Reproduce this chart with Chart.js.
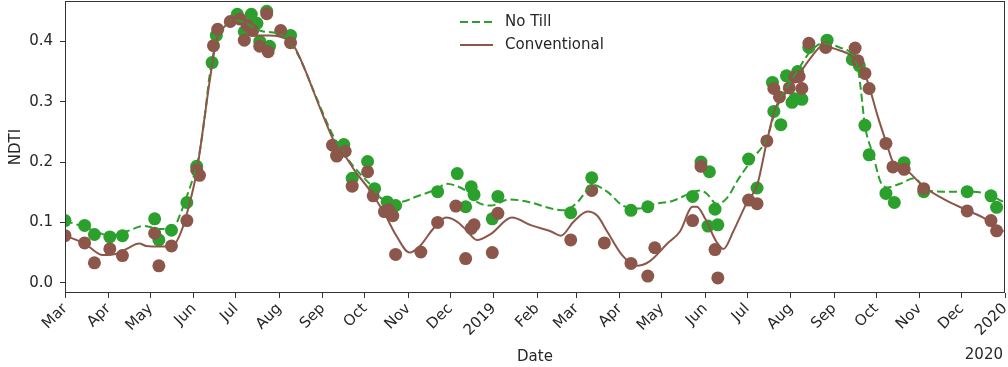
<!DOCTYPE html>
<html>
<head>
<meta charset="utf-8">
<script src="https://cdn.jsdelivr.net/npm/chart.js@4.4.0/dist/chart.umd.min.js"></script>
<style>
  html, body { margin: 0; padding: 0; background: #fff; }
  #wrap { width: 1008px; height: 367px; }
</style>
</head>
<body>
<div id="wrap"><canvas id="ndtiChart"></canvas></div>
<script>
// scatter points
const noTillDates = ['2018-03-01','2018-03-15','2018-03-22','2018-04-02','2018-04-11','2018-05-04','2018-05-07','2018-05-16','2018-05-27','2018-06-03',
  '2018-06-14','2018-06-17','2018-07-02','2018-07-07','2018-07-12','2018-07-16','2018-07-18','2018-07-23','2018-07-25','2018-08-09',
  '2018-09-11','2018-09-16','2018-09-22','2018-10-03','2018-10-08','2018-10-17','2018-10-23','2018-11-22','2018-12-06','2018-12-12',
  '2018-12-16','2018-12-18','2018-12-31','2019-01-04','2019-02-25','2019-03-12','2019-04-09','2019-04-21','2019-05-23','2019-05-29',
  '2019-06-03','2019-06-04','2019-06-08','2019-06-10','2019-07-02','2019-07-08','2019-07-19','2019-07-20','2019-07-25','2019-07-29',
  '2019-08-02','2019-08-04','2019-08-06','2019-08-09','2019-08-14','2019-08-27','2019-09-14','2019-09-19','2019-09-23','2019-09-26',
  '2019-10-08','2019-10-14','2019-10-21','2019-11-04','2019-12-05','2019-12-22','2019-12-26'];
const noTillValues = [0.103,0.095,0.080,0.076,0.078,0.106,0.071,0.087,0.133,0.193,
  0.365,0.410,0.445,0.416,0.445,0.430,0.400,0.450,0.392,0.410,
  0.211,0.229,0.173,0.201,0.156,0.134,0.128,0.151,0.181,0.126,
  0.159,0.146,0.106,0.143,0.116,0.174,0.120,0.126,0.143,0.200,
  0.094,0.184,0.122,0.096,0.205,0.157,0.332,0.284,0.262,0.343,
  0.299,0.305,0.350,0.304,0.390,0.402,0.370,0.360,0.261,0.212,
  0.148,0.133,0.199,0.151,0.151,0.144,0.125];

const conventionalDates = ['2018-03-01','2018-03-15','2018-03-22','2018-04-02','2018-04-11','2018-05-04','2018-05-07','2018-05-16','2018-05-27','2018-06-03',
  '2018-06-05','2018-06-15','2018-06-18','2018-06-27','2018-07-04','2018-07-07','2018-07-09','2018-07-13','2018-07-18','2018-07-23',
  '2018-07-24','2018-08-02','2018-08-09','2018-09-08','2018-09-11','2018-09-17','2018-09-22','2018-10-03','2018-10-07','2018-10-15',
  '2018-10-18','2018-10-21','2018-10-23','2018-11-10','2018-11-22','2018-12-05','2018-12-12','2018-12-16','2018-12-18','2018-12-31',
  '2019-01-04','2019-02-25','2019-03-12','2019-03-21','2019-04-09','2019-04-21','2019-04-26','2019-05-23','2019-05-29','2019-06-08',
  '2019-06-10','2019-07-02','2019-07-08','2019-07-15','2019-07-20','2019-07-24','2019-07-31','2019-08-04','2019-08-07','2019-08-09',
  '2019-08-14','2019-08-26','2019-09-16','2019-09-18','2019-09-23','2019-09-26','2019-10-08','2019-10-13','2019-10-21','2019-11-04',
  '2019-12-05','2019-12-22','2019-12-26'];
const conventionalValues = [0.078,0.066,0.033,0.056,0.045,0.082,0.028,0.061,0.103,0.187,
  0.178,0.393,0.420,0.433,0.437,0.402,0.427,0.418,0.392,0.446,
  0.383,0.418,0.398,0.228,0.210,0.218,0.160,0.184,0.144,0.118,
  0.121,0.111,0.047,0.051,0.100,0.127,0.040,0.090,0.096,0.050,
  0.115,0.071,0.153,0.066,0.032,0.011,0.058,0.103,0.193,0.055,
  0.008,0.137,0.131,0.235,0.322,0.308,0.323,0.341,0.342,0.322,
  0.397,0.390,0.389,0.368,0.347,0.322,0.231,0.192,0.188,0.156,
  0.119,0.103,0.086];

// smoothed curves
const noTillFitDates = ['2018-03-01','2018-03-15','2018-03-21','2018-04-02','2018-04-14','2018-04-26','2018-05-08','2018-05-17','2018-05-23','2018-05-28',
  '2018-06-01','2018-06-05','2018-06-09','2018-06-12','2018-06-17','2018-06-23','2018-06-30','2018-07-07','2018-07-18','2018-08-01',
  '2018-08-08','2018-08-15','2018-08-26','2018-09-06','2018-09-13','2018-09-24','2018-10-04','2018-10-14','2018-10-26','2018-11-07',
  '2018-11-22','2018-11-28','2018-12-06','2018-12-13','2018-12-20','2018-12-30','2019-01-12','2019-01-26','2019-02-11','2019-02-21',
  '2019-03-02','2019-03-13','2019-03-23','2019-04-03','2019-04-15','2019-04-27','2019-05-09','2019-05-21','2019-05-28','2019-06-02',
  '2019-06-09','2019-06-16','2019-06-25','2019-07-05','2019-07-15','2019-07-21','2019-07-29','2019-08-06','2019-08-15','2019-08-24',
  '2019-09-05','2019-09-13','2019-09-18','2019-09-20','2019-09-23','2019-09-29','2019-10-04','2019-10-09','2019-10-18','2019-10-28',
  '2019-11-07','2019-11-18','2019-12-05','2019-12-18','2019-12-31'];
const noTillFitValues = [0.103,0.092,0.087,0.078,0.085,0.094,0.089,0.090,0.118,0.150,
  0.178,0.215,0.280,0.340,0.400,0.425,0.435,0.432,0.418,0.412,
  0.400,0.375,0.315,0.255,0.225,0.190,0.165,0.138,0.134,0.143,
  0.156,0.164,0.160,0.151,0.134,0.128,0.138,0.134,0.123,0.120,
  0.134,0.162,0.151,0.128,0.123,0.131,0.136,0.148,0.153,0.148,
  0.131,0.139,0.173,0.206,0.239,0.284,0.322,0.352,0.383,0.397,
  0.390,0.380,0.355,0.322,0.261,0.211,0.168,0.158,0.164,0.173,
  0.153,0.151,0.151,0.148,0.134];

const conventionalFitDates = ['2018-03-01','2018-03-15','2018-03-28','2018-04-07','2018-04-14','2018-04-23','2018-04-28','2018-05-08','2018-05-17','2018-05-23',
  '2018-05-28','2018-06-03','2018-06-09','2018-06-12','2018-06-17','2018-06-23','2018-06-28','2018-07-04','2018-07-15','2018-07-25',
  '2018-08-05','2018-08-12','2018-08-19','2018-08-30','2018-09-10','2018-09-17','2018-09-24','2018-10-04','2018-10-15','2018-10-23',
  '2018-11-02','2018-11-09','2018-11-19','2018-11-28','2018-12-06','2018-12-13','2018-12-20','2018-12-30','2019-01-14','2019-01-28',
  '2019-02-11','2019-02-18','2019-02-27','2019-03-09','2019-03-16','2019-03-23','2019-04-03','2019-04-13','2019-04-22','2019-05-05',
  '2019-05-14','2019-05-23','2019-05-26','2019-06-01','2019-06-09','2019-06-14','2019-06-21','2019-07-01','2019-07-08','2019-07-15',
  '2019-07-21','2019-07-27','2019-08-06','2019-08-15','2019-08-24','2019-09-01','2019-09-13','2019-09-20','2019-09-25','2019-10-02',
  '2019-10-09','2019-10-13','2019-10-24','2019-11-04','2019-11-18','2019-12-05','2019-12-18','2019-12-31'];
const conventionalFitValues = [0.078,0.065,0.046,0.048,0.056,0.065,0.061,0.060,0.061,0.085,
  0.123,0.184,0.280,0.330,0.400,0.425,0.432,0.430,0.410,0.410,
  0.405,0.390,0.355,0.290,0.230,0.210,0.185,0.155,0.115,0.080,
  0.050,0.060,0.090,0.108,0.101,0.086,0.071,0.081,0.108,0.095,
  0.085,0.078,0.101,0.118,0.111,0.085,0.045,0.028,0.035,0.065,
  0.085,0.126,0.126,0.106,0.068,0.056,0.085,0.134,0.161,0.234,
  0.289,0.310,0.342,0.372,0.393,0.388,0.377,0.360,0.333,0.277,
  0.227,0.200,0.184,0.159,0.139,0.120,0.106,0.085];

const tickDates = ['2018-03-01','2018-04-01','2018-05-01','2018-06-01','2018-07-01','2018-08-01','2018-09-01','2018-10-01','2018-11-01','2018-12-01',
  '2019-01-01','2019-02-01','2019-03-01','2019-04-01','2019-05-01','2019-06-01','2019-07-01','2019-08-01','2019-09-01','2019-10-01',
  '2019-11-01','2019-12-01','2020-01-01'];
const tickLabels = ['Mar','Apr','May','Jun','Jul','Aug','Sep','Oct','Nov','Dec',
  '2019','Feb','Mar','Apr','May','Jun','Jul','Aug','Sep','Oct',
  'Nov','Dec','2020'];
const yTicks = [0.0, 0.1, 0.2, 0.3, 0.4];

const green = '#2ca02c';
const brown = '#8c564b';
const textColor = '#262626';
const start = Date.UTC(2018, 2, 1);

function toDays(s) {
    const p = s.split('-').map(Number);
    return (Date.UTC(p[0], p[1] - 1, p[2]) - start) / 86400000;
}

function toPoints(dates, values) {
    return dates.map((d, i) => ({x: toDays(d), y: values[i]}));
}

const marcoYLeyenda = {
    id: 'marcoYLeyenda',
    afterDatasetsDraw(chart) {
        const {ctx, chartArea} = chart;
        ctx.save();
        ctx.strokeStyle = '#333';
        ctx.lineWidth = 1;
        ctx.strokeRect(chartArea.left + 0.5, chartArea.top + 0.5, chartArea.right - chartArea.left - 1, chartArea.bottom - chartArea.top - 1);

        // legend
        ctx.lineWidth = 2;
        ctx.strokeStyle = green;
        ctx.setLineDash([8, 4]);
        ctx.beginPath();
        ctx.moveTo(460, 22);
        ctx.lineTo(493, 22);
        ctx.stroke();
        ctx.setLineDash([]);
        ctx.strokeStyle = brown;
        ctx.beginPath();
        ctx.moveTo(460, 45);
        ctx.lineTo(493, 45);
        ctx.stroke();

        ctx.fillStyle = textColor;
        ctx.font = '15px "DejaVu Sans"';
        ctx.textBaseline = 'middle';
        ctx.textAlign = 'left';
        ctx.fillText('No Till', 505, 22);
        ctx.fillText('Conventional', 505, 45);

        // offset year under the last tick
        ctx.textAlign = 'right';
        ctx.fillText('2020', 1003, 355);
        ctx.restore();
    }
};

Chart.defaults.font.family = '"DejaVu Sans"';
Chart.defaults.font.size = 15;
Chart.defaults.color = textColor;

const ctx = document.getElementById('ndtiChart').getContext('2d');
const chart = new Chart(ctx, {
    type: 'scatter',
    data: {
        datasets: [
            {
                label: 'Conventional fit',
                data: toPoints(conventionalFitDates, conventionalFitValues),
                showLine: true,
                borderColor: brown,
                borderWidth: 2,
                pointRadius: 0,
                cubicInterpolationMode: 'monotone',
                order: 0
            },
            {
                label: 'No Till fit',
                data: toPoints(noTillFitDates, noTillFitValues),
                showLine: true,
                borderColor: green,
                borderWidth: 2,
                borderDash: [8, 4],
                pointRadius: 0,
                cubicInterpolationMode: 'monotone',
                order: 1
            },
            {
                label: 'Conventional',
                data: toPoints(conventionalDates, conventionalValues),
                backgroundColor: brown,
                borderWidth: 0,
                pointRadius: 6.5,
                order: 2
            },
            {
                label: 'No Till',
                data: toPoints(noTillDates, noTillValues),
                backgroundColor: green,
                borderWidth: 0,
                pointRadius: 6.5,
                order: 3
            }
        ]
    },
    options: {
        responsive: true,
        maintainAspectRatio: false,
        animation: false,
        layout: {autoPadding: false, padding: {top: 1, right: 3, left: 0, bottom: 0}},
        plugins: {
            legend: {display: false},
            tooltip: {enabled: false}
        },
        scales: {
            x: {
                type: 'linear',
                min: 0,
                max: toDays('2020-01-01'),
                afterBuildTicks: (scale) => {
                    scale.ticks = tickDates.map(d => ({value: toDays(d)}));
                },
                afterFit: (scale) => {
                    scale.height = 74;
                    scale.paddingLeft = 0;
                    scale.paddingRight = 0;
                },
                ticks: {
                    autoSkip: false,
                    minRotation: 45,
                    maxRotation: 45,
                    padding: 2,
                    callback: (value, index) => tickLabels[index]
                },
                grid: {drawOnChartArea: false, color: '#333', tickLength: 5},
                border: {display: false},
                title: {display: true, text: 'Date', padding: {top: 0, bottom: 1}}
            },
            y: {
                min: -0.017,
                max: 0.467,
                afterBuildTicks: (scale) => {
                    scale.ticks = yTicks.map(v => ({value: v}));
                },
                afterFit: (scale) => {
                    scale.width = 65;
                    scale.paddingTop = 0;
                    scale.paddingBottom = 0;
                },
                ticks: {
                    padding: 7,
                    callback: (value) => value.toFixed(1)
                },
                grid: {drawOnChartArea: false, color: '#333', tickLength: 5},
                border: {display: false},
                title: {display: true, text: 'NDTI', padding: {top: 7, bottom: 0}}
            }
        }
    },
    plugins: [marcoYLeyenda]
});
</script>
</body>
</html>
